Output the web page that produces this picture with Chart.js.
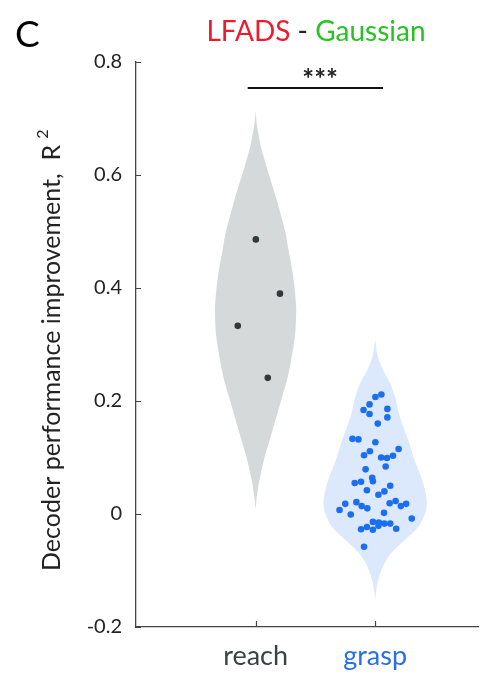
<!DOCTYPE html>
<html>
<head>
<meta charset="utf-8">
<script src="https://cdn.jsdelivr.net/npm/chart.js@4.4.1/dist/chart.umd.min.js"></script>
<style>
  html, body { margin: 0; padding: 0; background: #fff; }
  #wrap { width: 482px; height: 675px; }
</style>
</head>
<body>
<div id="wrap"><canvas id="myChart" width="482" height="675"></canvas></div>
<script>
  'use strict'

  // category positions and labels
  const categories = ['reach', 'grasp']
  const categoryX = [1, 2]
  const yTicks = [-0.2, 0, 0.2, 0.4, 0.6, 0.8]

  // violin outlines: value levels and half widths (x units)
  const reachLevels = [0.007, 0.030, 0.060, 0.100, 0.143, 0.202, 0.238, 0.273, 0.320, 0.368, 0.420, 0.468, 0.498, 0.557, 0.616, 0.650, 0.690, 0.713]
  const reachHalfWidth = [0, 0.010, 0.033, 0.075, 0.135, 0.215, 0.264, 0.298, 0.332, 0.339, 0.315, 0.275, 0.250, 0.175, 0.090, 0.045, 0.010, 0]
  const graspLevels = [-0.152, -0.130, -0.110, -0.090, -0.069, -0.046, -0.023, 0.002, 0.025, 0.060, 0.096, 0.131, 0.173, 0.208, 0.232, 0.255, 0.279, 0.309]
  const graspHalfWidth = [0, 0.012, 0.035, 0.072, 0.135, 0.248, 0.360, 0.419, 0.431, 0.393, 0.328, 0.276, 0.205, 0.165, 0.125, 0.065, 0.022, 0]

  // individual points
  const reachPointX = [1.002, 1.204, 0.851, 1.102]
  const reachPointY = [0.486, 0.390, 0.333, 0.241]
  const graspPointX = [2.052, 2.002, 1.953, 1.903, 2.102, 1.953, 2.102, 2.022, 1.810, 1.860,
    2.002, 2.196, 1.956, 1.907, 2.050, 2.099, 2.149, 2.088, 1.920, 1.975,
    1.981, 1.829, 1.882, 2.126, 1.931, 2.077, 2.027, 1.750, 1.843, 1.887,
    1.934, 2.121, 2.171, 2.215, 2.259, 1.702, 1.796, 2.074, 2.306, 1.981,
    2.031, 2.077, 2.126, 2.027, 1.931, 1.882, 1.981, 2.176, 1.907]
  const graspPointY = [0.2115, 0.207, 0.194, 0.184, 0.186, 0.177, 0.171, 0.160, 0.133, 0.132,
    0.127, 0.115, 0.111, 0.104, 0.100, 0.099, 0.103, 0.084, 0.079, 0.064,
    0.058, 0.055, 0.057, 0.050, 0.042, 0.040, 0.034, 0.018, 0.021, 0.014,
    0.010, 0.019, 0.023, 0.014, 0.018, 0.007, -0.001, 0.002, -0.008, -0.014,
    -0.015, -0.017, -0.017, -0.021, -0.023, -0.027, -0.028, -0.026, -0.058]

  // significance bar
  const sigBarX = [0.934, 2.066]
  const sigBarY = 0.754
  const sigLabel = '***'

  const toPoints = (xs, ys) => xs.map((x, i) => ({ x: x, y: ys[i] }))

  // closed outline: right side upwards, left side downwards
  const violin = (center, levels, hw) => {
    const right = levels.map((y, i) => ({ x: center + hw[i], y: y }))
    const left = levels.map((y, i) => ({ x: center - hw[i], y: y })).reverse()
    return right.concat(left)
  }

  const textPlugin = {
    id: 'texts',
    afterDraw(chart) {
      const { ctx, scales: { x, y } } = chart
      ctx.save()

      // inward tick marks
      ctx.strokeStyle = '#444'
      ctx.lineWidth = 1.2
      ctx.beginPath()
      yTicks.forEach(v => {
        const py = Math.round(y.getPixelForValue(v)) + 0.5
        ctx.moveTo(x.left, py)
        ctx.lineTo(x.left + 5, py)
      })
      categoryX.forEach(v => {
        const px = Math.round(x.getPixelForValue(v)) + 0.5
        ctx.moveTo(px, y.bottom)
        ctx.lineTo(px, y.bottom - 6)
      })
      ctx.stroke()

      // panel letter
      ctx.fillStyle = '#000'
      ctx.font = '37px Lato'
      ctx.textBaseline = 'alphabetic'
      ctx.textAlign = 'left'
      ctx.fillText('C', 15, 47)

      // two-colour title
      ctx.font = '28px Lato'
      const parts = [['LFADS', '#ec1b2e'], [' - ', '#222'], ['Gaussian', '#27c324']]
      const total = parts.reduce((s, p) => s + ctx.measureText(p[0]).width, 0)
      let tx = 316 - total / 2
      parts.forEach(p => {
        ctx.fillStyle = p[1]
        ctx.fillText(p[0], tx, 41)
        tx += ctx.measureText(p[0]).width
      })

      // stars above the bar
      ctx.fillStyle = '#222'
      ctx.font = 'bold 28px Lato'
      ctx.textAlign = 'center'
      ctx.fillText(sigLabel, x.getPixelForValue(1.54), y.getPixelForValue(sigBarY) + 1)

      // y axis title with superscript
      ctx.translate(60, 571)
      ctx.rotate(-Math.PI / 2)
      ctx.textAlign = 'left'
      ctx.fillStyle = '#222'
      ctx.font = '25px Lato'
      const main = 'Decoder performance improvement,  R'
      ctx.fillText(main, 0, 0)
      const w = ctx.measureText(main).width
      ctx.font = '16px Lato'
      ctx.fillText('2', w + 6, -12)

      ctx.restore()
    }
  }

  const ctx = document.getElementById('myChart')
  // eslint-disable-next-line no-unused-vars
  const myChart = new Chart(ctx, {
    type: 'scatter',
    data: {
      datasets: [
        {
          data: toPoints(reachPointX, reachPointY),
          backgroundColor: '#2e3a3c',
          pointRadius: 3.3,
          borderWidth: 0
        },
        {
          data: toPoints(graspPointX, graspPointY),
          backgroundColor: '#1c6ef0',
          pointRadius: 3.3,
          borderWidth: 0
        },
        {
          type: 'line',
          data: toPoints(sigBarX, [sigBarY, sigBarY]),
          borderColor: '#111',
          borderWidth: 2,
          pointRadius: 0,
          fill: false
        },
        {
          type: 'line',
          data: violin(categoryX[0], reachLevels, reachHalfWidth),
          borderWidth: 0,
          borderColor: 'rgba(0,0,0,0)',
          backgroundColor: '#d6d9da',
          pointRadius: 0,
          tension: 0.25,
          fill: 'shape'
        },
        {
          type: 'line',
          data: violin(categoryX[1], graspLevels, graspHalfWidth),
          borderWidth: 0,
          borderColor: 'rgba(0,0,0,0)',
          backgroundColor: '#dce8fb',
          pointRadius: 0,
          tension: 0.3,
          fill: 'shape'
        }
      ]
    },
    options: {
      responsive: false,
      animation: false,
      layout: { padding: { top: 62, left: 0, right: 0, bottom: 0 } },
      plugins: {
        legend: { display: false },
        tooltip: { enabled: false }
      },
      scales: {
        x: {
          type: 'linear',
          min: 0,
          max: 2.86,
          afterFit: s => { s.height = 48 },
          afterBuildTicks: s => { s.ticks = categoryX.map(v => ({ value: v })) },
          grid: { display: true, drawOnChartArea: false, drawTicks: false },
          border: { color: '#444', width: 1.3 },
          ticks: {
            padding: 13,
            font: { family: 'Lato', size: 27 },
            color: c => (c.index === 1 ? '#2b6fe6' : '#3b4243'),
            callback: (v, i) => categories[i]
          }
        },
        y: {
          type: 'linear',
          min: -0.2,
          max: 0.8,
          afterFit: s => { s.width = 136 },
          afterBuildTicks: s => { s.ticks = yTicks.map(v => ({ value: v })) },
          grid: { display: true, drawOnChartArea: false, drawTicks: false },
          border: { color: '#444', width: 1.3 },
          ticks: {
            padding: 14,
            font: { family: 'Lato', size: 20 },
            color: '#222',
            callback: v => (Math.abs(v) < 1e-9 ? '0' : v.toFixed(1))
          }
        }
      }
    },
    plugins: [textPlugin]
  })
</script>
</body>
</html>
